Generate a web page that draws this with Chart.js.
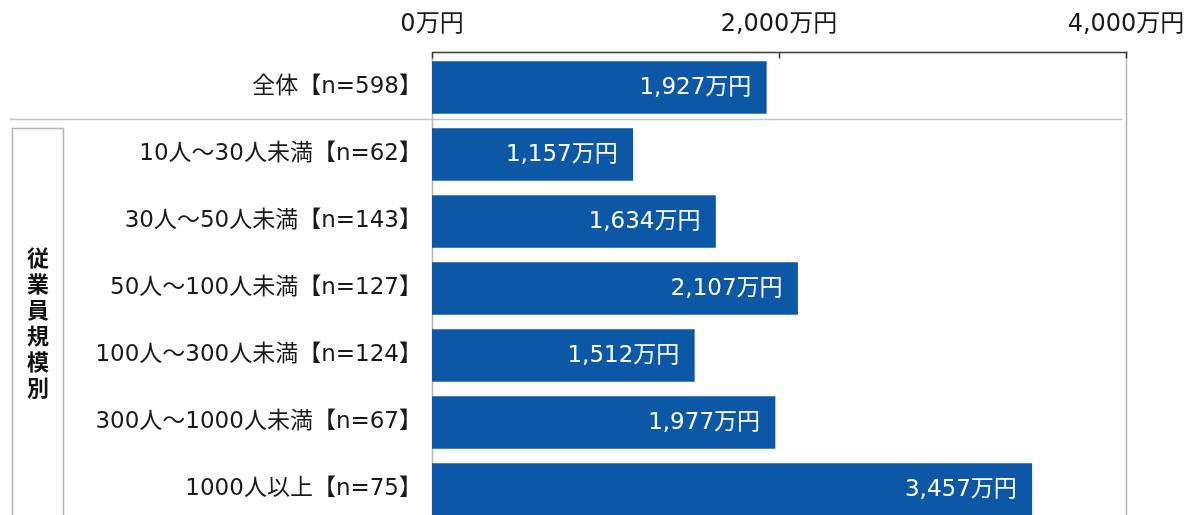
<!DOCTYPE html>
<html lang="ja">
<head>
<meta charset="utf-8">
<title>従業員規模別</title>
<script src="https://cdn.jsdelivr.net/npm/chart.js@4"></script>
<style>
  html, body { margin: 0; padding: 0; background: #fff; overflow: hidden; }
  #wrap { width: 1189px; height: 525px; }
</style>
</head>
<body>
<div id="wrap"><canvas id="grafico" width="1189" height="525"></canvas></div>
<script>
// categorias y valores (万円)
const categorias = [
    '全体【n=598】',
    '10人～30人未満【n=62】',
    '30人～50人未満【n=143】',
    '50人～100人未満【n=127】',
    '100人～300人未満【n=124】',
    '300人～1000人未満【n=67】',
    '1000人以上【n=75】'
]
const valores = [1927, 1157, 1634, 2107, 1512, 1977, 3457]
const ticks_x = [0, 2000, 4000]
const grupo = '従業員規模別'

const FUENTE = '"DejaVu Sans", "Noto Sans CJK JP", sans-serif'
const AZUL = '#0c57a6'

function formato(v) {
    return v.toLocaleString('en-US') + '万円'
}

// marco, separador, caja lateral y etiquetas de valor
const decoracion = {
    id: 'decoracion',
    beforeDatasetsDraw(chart) {
        const ctx = chart.ctx
        const area = chart.chartArea
        const x = chart.scales.x
        const y = chart.scales.y
        const top = area.top - 1.5
        const x0 = Math.round(x.getPixelForValue(0)) + 0.5
        const x1 = Math.round(x.getPixelForValue(4000)) + 0.5
        ctx.save()
        // lineas laterales grises
        ctx.strokeStyle = '#b4b4b4'
        ctx.lineWidth = 1.5
        ctx.beginPath()
        ctx.moveTo(x0, top)
        ctx.lineTo(x0, chart.height)
        ctx.moveTo(x1, top)
        ctx.lineTo(x1, chart.height)
        ctx.stroke()
        // separador entre total y el resto
        const sep = Math.round((y.getPixelForValue(0) + y.getPixelForValue(1)) / 2) - 1.5
        ctx.strokeStyle = '#c4c4c4'
        ctx.beginPath()
        ctx.moveTo(10, sep)
        ctx.lineTo(x1 - 4, sep)
        ctx.stroke()
        // caja con el texto vertical
        const cajaTop = sep + 9
        ctx.strokeStyle = '#b4b4b4'
        ctx.strokeRect(12.5, cajaTop, 51, chart.height)
        ctx.fillStyle = '#111'
        ctx.font = 'bold 22px "Noto Sans CJK JP", sans-serif'
        ctx.textAlign = 'center'
        ctx.textBaseline = 'middle'
        const chars = Array.from(grupo)
        const paso = 26
        const centro = 323
        chars.forEach((c, i) => {
            ctx.fillText(c, 38, centro + (i - (chars.length - 1) / 2) * paso)
        })
        // eje superior con marcas hacia abajo
        ctx.strokeStyle = '#3a3a3a'
        ctx.beginPath()
        ctx.moveTo(x0 - 0.5, top)
        ctx.lineTo(x1 + 1, top)
        for (const t of ticks_x) {
            const px = Math.round(x.getPixelForValue(t)) + 0.5
            ctx.moveTo(px, top)
            ctx.lineTo(px, top + 6)
        }
        ctx.stroke()
        ctx.restore()
    },
    afterDatasetsDraw(chart) {
        const ctx = chart.ctx
        const meta = chart.getDatasetMeta(0)
        ctx.save()
        ctx.fillStyle = '#fff'
        ctx.font = '23px ' + FUENTE
        ctx.textAlign = 'right'
        ctx.textBaseline = 'middle'
        meta.data.forEach((bar, i) => {
            ctx.fillText(formato(valores[i]), bar.x - 15, bar.y + 1)
        })
        ctx.restore()
    }
}

new Chart(document.getElementById('grafico'), {
    type: 'bar',
    data: {
        labels: categorias,
        datasets: [{
            data: valores,
            backgroundColor: AZUL,
            barThickness: 52
        }]
    },
    options: {
        indexAxis: 'y',
        responsive: false,
        animation: false,
        layout: { padding: { left: 0, right: 63, top: 0, bottom: 2 } },
        plugins: {
            legend: { display: false },
            tooltip: { enabled: false }
        },
        scales: {
            x: {
                position: 'top',
                min: 0,
                max: 4000,
                afterBuildTicks(scale) {
                    scale.ticks = ticks_x.map(v => ({ value: v }))
                },
                afterFit(scale) {
                    scale.height = 54
                    scale.paddingLeft = 0
                    scale.paddingRight = 0
                },
                grid: { display: false, drawTicks: false },
                border: { display: false },
                ticks: {
                    padding: 15,
                    color: '#1a1a1a',
                    font: { family: FUENTE, size: 24 },
                    callback: v => formato(v)
                }
            },
            y: {
                afterFit(scale) {
                    scale.width = 432
                    scale.paddingTop = 0
                    scale.paddingBottom = 0
                },
                grid: { display: false, drawTicks: false },
                border: { display: false },
                ticks: {
                    padding: 10,
                    color: '#1a1a1a',
                    font: { family: FUENTE, size: 23 }
                }
            }
        }
    },
    plugins: [decoracion]
})
</script>
</body>
</html>
